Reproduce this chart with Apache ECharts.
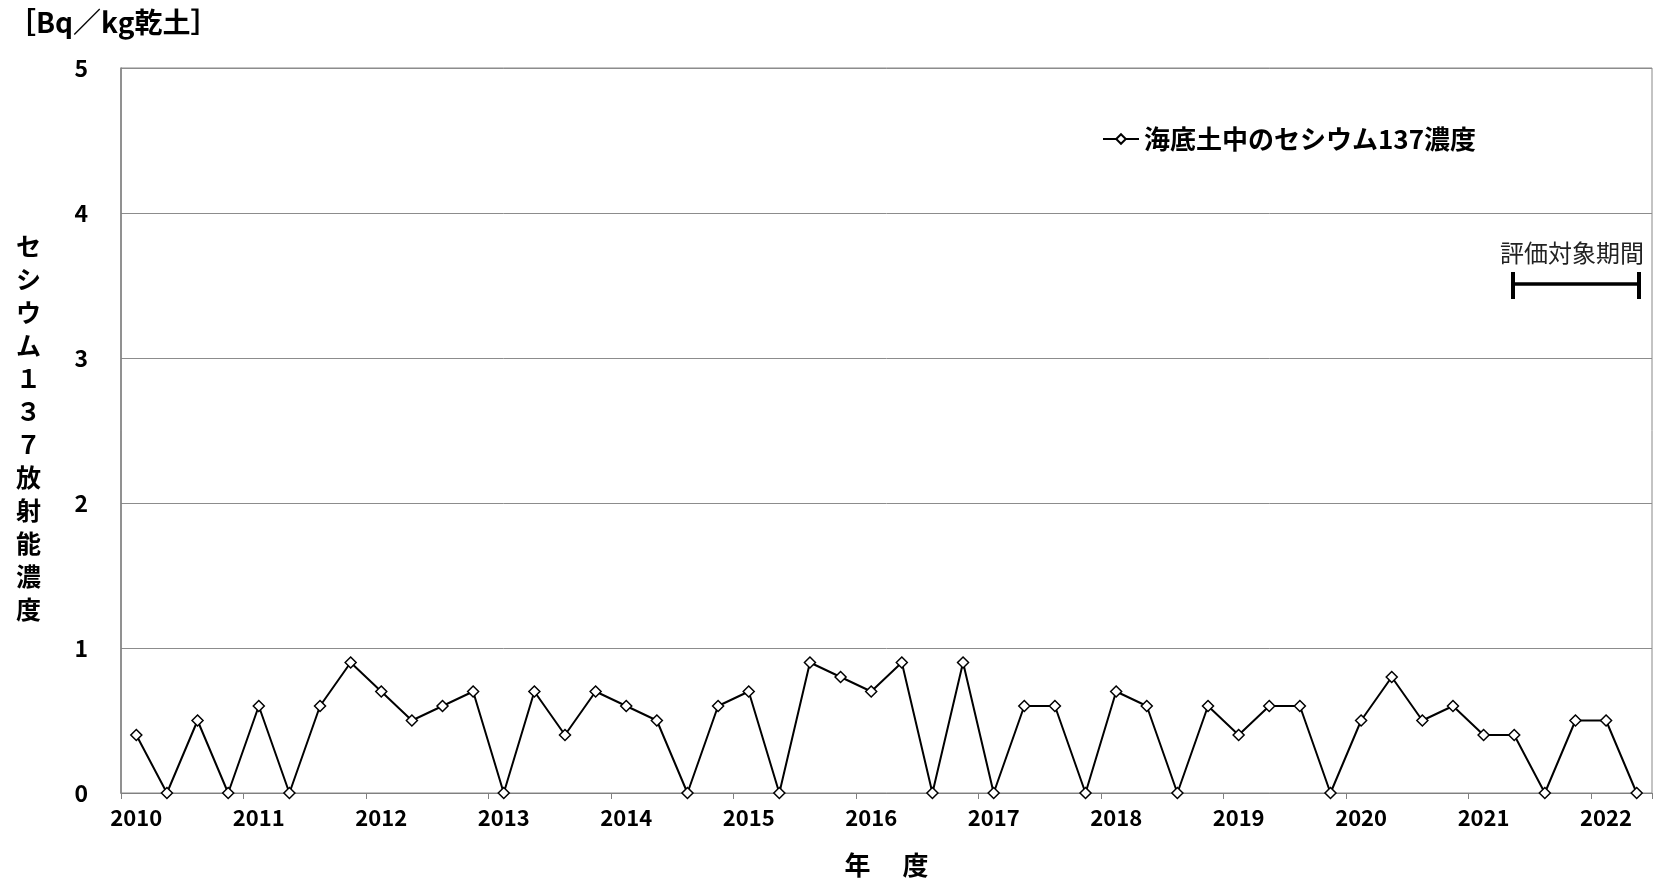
<!DOCTYPE html>
<html>
<head>
<meta charset="utf-8">
<script src="https://cdn.jsdelivr.net/npm/echarts@6/dist/echarts.min.js"></script>
<style>
html,body{margin:0;padding:0;background:#fff;}
#main{width:1657px;height:885px;}
</style>
</head>
<body>
<div id="main"></div>
<script>
// Fiscal years shown on the x axis (one label per year, 4 samples per year)
const fiscalYears = ['2010','2011','2012','2013','2014','2015','2016','2017','2018','2019','2020','2021','2022'];
const quarterNames = ['Q1','Q2','Q3','Q4'];
// Cs-137 concentration in seabed soil [Bq/kg dry soil], quarterly from 2010 Q1 to 2022 Q2
const cs137 = [
  0.4, 0, 0.5, 0,
  0.6, 0, 0.6, 0.9,
  0.7, 0.5, 0.6, 0.7,
  0, 0.7, 0.4, 0.7,
  0.6, 0.5, 0, 0.6,
  0.7, 0, 0.9, 0.8,
  0.7, 0.9, 0, 0.9,
  0, 0.6, 0.6, 0,
  0.7, 0.6, 0, 0.6,
  0.4, 0.6, 0.6, 0,
  0.5, 0.8, 0.5, 0.6,
  0.4, 0.4, 0, 0.5,
  0.5, 0
];
const yTicks = [0, 1, 2, 3, 4, 5];
const seriesName = '海底土中のセシウム137濃度';
const yAxisTitle = 'セシウム１３７放射能濃度';
const unitLabel = '［Bq／kg乾土］';
const xAxisTitle = '年　 度';
const periodLabel = '評価対象期間';

const categories = cs137.map((_, i) => fiscalYears[Math.floor(i / 4)] + '-' + quarterNames[i % 4]);

const FONT = '"Noto Sans CJK JP", "Noto Sans", sans-serif';
const chart = echarts.init(document.getElementById('main'), null, {renderer: 'canvas'});

chart.setOption({
  animation: false,
  backgroundColor: '#fff',
  textStyle: {fontFamily: FONT},
  grid: {
    left: 121, right: 5, top: 68, bottom: 92,
    outerBoundsMode: 'none', containLabel: false,
    show: true, borderColor: '#888', borderWidth: 1, backgroundColor: 'transparent'
  },
  legend: {
    data: [seriesName],
    left: 1097, top: 121,
    itemWidth: 36, itemHeight: 12, itemGap: 10,
    textStyle: {fontFamily: FONT, fontSize: 26, fontWeight: 'bold', color: '#000'}
  },
  xAxis: {
    type: 'category',
    data: categories,
    boundaryGap: true,
    name: xAxisTitle,
    nameLocation: 'middle',
    nameGap: 59,
    nameTextStyle: {fontFamily: FONT, fontSize: 26, fontWeight: 'bold', color: '#000'},
    axisLine: {lineStyle: {color: '#808080', width: 1}},
    axisTick: {show: true, interval: 3, length: 6, lineStyle: {color: '#808080'}},
    axisLabel: {
      interval: 3, margin: 14,
      fontFamily: FONT, fontSize: 22, fontWeight: 'bold', color: '#000',
      formatter: v => v.split('-')[0]
    },
    splitLine: {show: false}
  },
  yAxis: {
    type: 'value',
    min: yTicks[0], max: yTicks[yTicks.length - 1], interval: 1,
    axisLine: {show: true, lineStyle: {color: '#808080', width: 1.5}},
    axisTick: {show: false},
    axisLabel: {margin: 33, fontFamily: FONT, fontSize: 23, fontWeight: 'bold', color: '#000'},
    splitLine: {show: true, lineStyle: {color: '#8c8c8c', width: 1}}
  },
  series: [{
    name: seriesName,
    type: 'line',
    data: cs137,
    symbol: 'diamond',
    symbolSize: 11,
    showAllSymbol: true,
    lineStyle: {color: '#000', width: 2},
    itemStyle: {color: '#fff', borderColor: '#000', borderWidth: 1.5}
  }],
  graphic: [
    {type: 'text', left: 8, top: 8, style: {text: unitLabel, fontFamily: FONT, fontSize: 28, fontWeight: 'bold', fill: '#000'}},
    {type: 'text', x: 28.5, y: 428, style: {
      text: yAxisTitle.split('').join('\n'), fontFamily: FONT, fontSize: 25, fontWeight: 'bold',
      lineHeight: 33, fill: '#000', align: 'center', verticalAlign: 'middle'}},
    {type: 'text', x: 1644, y: 253, style: {
      text: periodLabel, fontFamily: FONT, fontSize: 24, fontWeight: 'normal', fill: '#222',
      align: 'right', verticalAlign: 'middle'}},
    {type: 'line', shape: {x1: 1513, y1: 284, x2: 1639, y2: 284}, style: {stroke: '#000', lineWidth: 3.5}},
    {type: 'line', shape: {x1: 1513, y1: 272, x2: 1513, y2: 299}, style: {stroke: '#000', lineWidth: 4}},
    {type: 'line', shape: {x1: 1639, y1: 272, x2: 1639, y2: 299}, style: {stroke: '#000', lineWidth: 4}}
  ]
});
</script>
</body>
</html>
